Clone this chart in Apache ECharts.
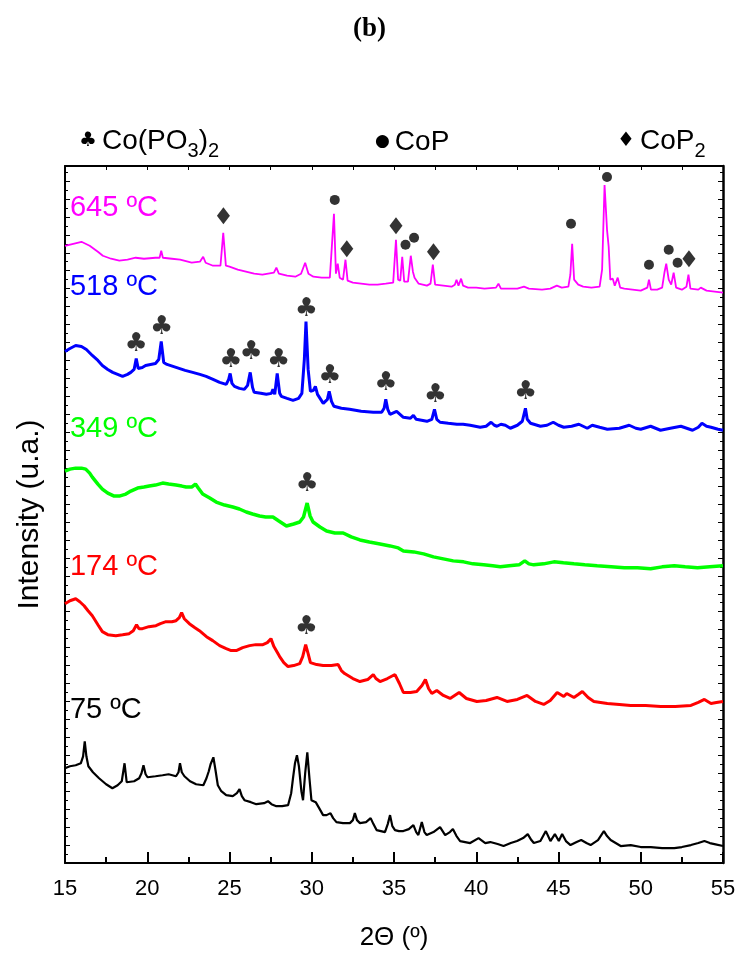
<!DOCTYPE html>
<html>
<head>
<meta charset="utf-8">
<script src="https://cdn.jsdelivr.net/npm/echarts@6/dist/echarts.min.js"></script>
<style>
  html, body { margin: 0; padding: 0; background: #fff; }
  #main { width: 739px; height: 956px; }
</style>
</head>
<body>
<div id="main"></div>
<script>
// 2Θ (º) vs intensity (arbitrary, stacked)
var xTicks = [15, 20, 25, 30, 35, 40, 45, 50, 55];

var s645 = [[15.0,604],[15.5,606],[16.0,608],[16.5,604],[17.0,598],[17.3,594],[17.8,591],[18.3,589],[18.8,590],[19.3,592],[19.8,591],[20.5,592],[20.75,592],[20.85,599],[20.95,592],[21.5,591],[22.0,590],[22.7,587],[23.2,588],[23.4,593],[23.55,587],[24.0,584],[24.45,584],[24.62,617],[24.78,584],[25.0,583],[25.5,580],[26.0,578],[26.5,576],[27.0,575],[27.7,577],[27.85,582],[28.0,576],[28.5,574],[29.0,573],[29.35,576],[29.6,587],[29.8,576],[30.1,573],[30.6,572],[31.1,572],[31.22,574],[31.35,636],[31.47,576],[31.58,586],[31.7,572],[31.9,570],[32.05,590],[32.18,569],[32.5,567],[33.0,566],[33.5,565],[34.0,565],[34.5,566],[34.95,567],[35.12,610],[35.25,570],[35.38,569],[35.5,593],[35.62,568],[35.85,568],[36.02,594],[36.15,578],[36.25,572],[36.5,566],[37.0,564],[37.22,566],[37.36,585],[37.5,565],[38.0,564],[38.5,563],[38.7,565],[38.8,570],[38.92,564],[39.08,571],[39.2,564],[39.5,562],[40.0,562],[40.5,561],[41.2,562],[41.35,566],[41.5,561],[42.0,561],[42.5,561],[42.9,563],[43.2,561],[44.0,560],[44.5,561],[44.9,564],[45.2,562],[45.6,563],[45.72,575],[45.83,606],[45.95,570],[46.2,565],[46.5,563],[47.0,562],[47.5,563],[47.65,580],[47.8,665],[47.95,620],[48.05,603],[48.15,570],[48.3,571],[48.42,564],[48.6,572],[48.75,562],[49.0,561],[49.5,560],[50.0,559],[50.4,562],[50.5,570],[50.62,560],[51.0,560],[51.3,562],[51.45,578],[51.55,586],[51.7,570],[51.85,565],[52.0,577],[52.15,562],[52.5,560],[52.78,563],[52.9,575],[53.02,561],[53.5,560],[53.65,562],[54.0,559],[54.5,558],[55.0,557]];

var s518 = [[15.0,498],[15.3,501],[15.65,504],[16.0,503],[16.3,500],[16.66,494],[17.0,489],[17.27,484],[17.6,480],[17.9,477],[18.5,473],[18.8,475],[19.0,477],[19.2,480],[19.33,491],[19.45,481],[19.7,482],[19.9,484],[20.2,485],[20.5,486],[20.7,490],[20.85,508],[21.0,487],[21.2,485],[21.75,482],[22.3,479],[22.76,477],[23.2,475],[23.58,473],[24.0,470],[24.4,467],[24.8,465],[24.95,470],[25.04,476],[25.15,466],[25.3,463],[25.6,461],[25.9,460],[26.1,464],[26.26,477],[26.4,462],[26.5,457],[26.9,456],[27.24,455],[27.55,456],[27.64,460],[27.75,455],[27.9,476],[28.05,456],[28.15,453],[28.5,451],[28.86,449],[29.2,451],[29.4,456],[29.55,490],[29.65,528],[29.78,480],[29.92,458],[30.1,459],[30.22,463],[30.35,455],[30.7,446],[30.95,450],[31.06,458],[31.2,448],[31.35,443],[31.8,441],[32.3,440],[33.0,438],[33.74,437],[34.25,437],[34.4,441],[34.5,450],[34.62,440],[34.76,435],[35.16,438],[35.57,432],[36.0,431],[36.18,434],[36.35,430],[37.0,428],[37.3,430],[37.46,440],[37.6,430],[37.8,427],[38.3,426],[38.82,425],[39.2,425],[39.63,424],[40.24,422],[40.6,423],[40.9,427],[41.1,424],[41.26,423],[41.5,425],[41.77,424],[42.07,421],[42.5,424],[42.8,428],[42.99,441],[43.1,430],[43.3,426],[43.9,423],[44.3,424],[44.68,427],[45.0,424],[45.32,422],[45.8,423],[46.24,425],[46.75,421],[47.05,424],[47.5,422],[47.97,420],[48.7,421],[49.3,424],[49.7,421],[50.0,420],[50.6,423],[51.2,419],[51.8,421],[52.44,423],[53.15,419],[53.5,422],[53.72,426],[54.0,423],[54.27,422],[54.7,420],[55.0,419]];

var s349 = [[15.0,378],[15.3,380],[15.65,381],[16.0,381],[16.26,380],[16.5,376],[16.66,372],[17.0,365],[17.27,360],[17.6,356],[17.99,353],[18.3,353],[18.7,355],[19.0,358],[19.41,361],[19.8,362],[20.12,363],[20.5,364],[20.93,366],[21.3,365],[21.75,364],[22.1,363],[22.36,362],[22.7,362],[22.93,365],[23.1,361],[23.37,355],[23.8,351],[24.19,347],[24.7,344],[25.2,342],[25.6,340],[26.02,337],[26.4,335],[26.83,333],[27.2,332],[27.64,332],[28.0,328],[28.46,323],[28.9,325],[29.27,327],[29.5,332],[29.72,346],[29.9,333],[30.08,327],[30.5,322],[30.9,318],[31.4,316],[31.91,316],[32.4,312],[32.93,309],[33.5,307],[34.15,305],[34.76,303],[35.26,301],[35.57,298],[36.2,297],[36.8,295],[37.4,292],[38.0,290],[38.6,288],[39.23,287],[39.8,285],[40.45,284],[41.0,283],[41.46,282],[42.0,283],[42.6,284],[42.95,288],[43.2,285],[43.5,284],[44.1,285],[44.72,287],[45.3,286],[45.94,285],[46.6,284],[47.35,283],[48.2,282],[49.0,281],[49.8,281],[50.6,280],[51.3,282],[52.04,283],[52.7,282],[53.45,281],[54.2,282],[55.0,283]];

var s174 = [[15.0,245],[15.3,248],[15.65,250],[15.9,247],[16.16,243],[16.4,238],[16.66,233],[17.0,224],[17.27,217],[17.6,214],[18.09,213],[18.5,214],[18.9,215],[19.15,218],[19.35,224],[19.5,220],[19.71,220],[20.1,222],[20.53,223],[20.8,225],[21.14,227],[21.5,227],[21.75,228],[21.95,231],[22.09,236],[22.25,230],[22.56,225],[22.9,221],[23.17,218],[23.6,212],[23.98,208],[24.4,203],[24.8,200],[25.1,198],[25.41,198],[25.8,201],[26.22,203],[26.6,204],[27.03,204],[27.3,206],[27.52,210],[27.7,202],[28.05,192],[28.3,186],[28.56,182],[28.9,183],[29.27,185],[29.45,192],[29.63,204],[29.78,195],[29.92,186],[30.3,184],[30.69,183],[31.2,183],[31.6,184],[31.8,178],[32.0,175],[32.5,170],[32.93,167],[33.4,169],[33.74,174],[33.9,170],[34.15,167],[34.6,170],[35.06,174],[35.12,175],[35.33,165],[35.57,156],[36.0,156],[36.38,157],[36.7,163],[36.91,169],[37.1,160],[37.3,155],[37.6,158],[38.0,153],[38.41,150],[38.96,156],[39.4,150],[40.04,147],[40.6,148],[41.26,151],[41.87,147],[42.5,149],[43.09,153],[43.6,147],[44.1,144],[44.5,148],[44.92,156],[45.32,152],[45.5,155],[45.94,151],[46.2,154],[46.45,157],[46.8,151],[47.15,147],[47.97,145],[48.7,144],[49.39,143],[50.3,143],[51.22,142],[52.1,142],[53.05,143],[53.5,146],[53.87,149],[54.27,145],[54.6,146],[55.0,147]];

var s75 = [[15.0,80],[15.3,82],[15.65,83],[15.96,85],[16.1,92],[16.2,107],[16.3,92],[16.42,82],[16.7,76],[17.07,70],[17.5,64],[17.88,60],[18.2,63],[18.45,67],[18.62,85],[18.75,66],[18.8,64],[19.2,67],[19.51,70],[19.65,75],[19.77,83],[19.9,74],[20.02,71],[20.5,72],[20.93,73],[21.3,74],[21.75,72],[21.9,76],[21.99,85],[22.1,76],[22.26,72],[22.6,67],[22.97,64],[23.41,63],[23.6,70],[23.74,77],[23.85,84],[24.02,91],[24.15,78],[24.29,63],[24.5,57],[24.8,53],[25.2,52],[25.45,55],[25.61,59],[25.75,52],[25.91,48],[26.3,46],[26.63,44],[27.1,45],[27.34,47],[27.55,44],[27.85,42],[28.2,42],[28.56,43],[28.75,55],[28.86,70],[28.98,85],[29.1,93],[29.22,82],[29.37,57],[29.47,48],[29.6,75],[29.73,96],[29.86,70],[29.98,48],[30.24,46],[30.45,40],[30.69,33],[30.9,33],[31.14,35],[31.3,30],[31.5,26],[31.9,25],[32.32,25],[32.5,28],[32.62,35],[32.75,28],[32.93,25],[33.3,26],[33.58,30],[33.75,24],[33.94,18],[34.2,17],[34.45,16],[34.62,24],[34.76,33],[34.9,22],[35.06,18],[35.3,17],[35.57,17],[35.9,19],[36.18,23],[36.35,16],[36.48,13],[36.69,26],[36.85,16],[36.99,13],[37.4,16],[37.8,21],[38.11,13],[38.4,16],[38.58,19],[38.8,12],[39.02,7],[39.63,5],[40.14,10],[40.55,5],[40.85,6],[41.3,4],[41.66,2],[42.1,5],[42.48,7],[42.85,10],[43.13,14],[43.35,8],[43.5,5],[43.9,7],[44.23,17],[44.51,7],[44.78,14],[45.02,7],[45.22,14],[45.45,7],[45.73,3],[46.1,6],[46.38,8],[46.7,5],[46.95,3],[47.4,8],[47.76,17],[47.95,12],[48.17,8],[48.78,2],[49.39,3],[50.0,1],[50.61,1],[51.3,0],[52.04,0],[52.5,1],[53.05,3],[53.5,5],[53.87,7],[54.2,5],[54.48,4],[55.0,2]];

// phase markers
var clubPts = [[19.33,505],[20.87,522],[25.08,489],[26.32,497],[27.99,489],[29.68,540],[31.1,473],[34.51,466],[37.52,454],[43.0,457],[29.72,365],[29.68,221]];
var dotPts = [[31.4,650],[35.7,605],[36.22,612],[45.76,626],[47.95,673],[50.5,585],[51.7,600],[52.24,587]];
var diamondPts = [[24.63,634],[32.13,601],[35.12,624],[37.4,598],[52.93,591]];

// temperature labels
var tempNames = ['645 ºC', '518 ºC', '349 ºC', '174 ºC', '75 ºC'];
var tempColors = ['#ff00ff', '#0000ff', '#00ff00', '#ff0000', '#000000'];
var tempPos = [[15.3,642],[15.3,563],[15.3,420],[15.3,282],[15.3,138]];

var chart = echarts.init(document.getElementById('main'));

var FONT = 'Liberation Sans, Arial, Helvetica, sans-serif';

function lineSeries(name, data, color, w) {
  return {
    name: name, type: 'line', data: data, showSymbol: false,
    lineStyle: {color: color, width: w}, itemStyle: {color: color},
    z: 2, silent: true
  };
}

// legend text; subscripts pushed down with top padding
var legendRich = {
  c: {fontFamily: 'DejaVu Sans', fontSize: 20, fontWeight: 'normal', color: '#000', lineHeight: 30},
  d: {fontFamily: 'DejaVu Sans', fontSize: 17, fontWeight: 'normal', color: '#000', lineHeight: 30},
  a: {fontFamily: FONT, fontSize: 28, fontWeight: 'normal', color: '#000', lineHeight: 30},
  s: {fontFamily: FONT, fontSize: 20, fontWeight: 'normal', color: '#000', lineHeight: 20, padding: [20, 0, 0, 0]}
};

var option = {
  animation: false,
  backgroundColor: '#fff',
  title: [
    {text: '(b)', left: 'center', top: 11,
     textStyle: {fontFamily: 'Liberation Serif, Times New Roman, serif', fontWeight: 'bold', fontSize: 27, color: '#000'}},
    {text: '{c|♣} {a|Co(PO}{s|3}{a|)}{s|2}', left: 74, top: 121, textStyle: {fontWeight: 'normal', rich: legendRich}},
    {text: '{d|●} {a|CoP}', left: 370, top: 122, textStyle: {fontWeight: 'normal', rich: legendRich}},
    {text: '{c|♦} {a|CoP}{s|2}', left: 612, top: 121, textStyle: {fontWeight: 'normal', rich: legendRich}}
  ],
  grid: {left: 65, right: 16, top: 166, bottom: 91, containLabel: false},
  xAxis: [
    {type: 'value', min: 15, max: 55, interval: 5, position: 'bottom',
     axisLine: {show: true, onZero: false, lineStyle: {color: '#000', width: 2}},
     axisTick: {show: true, inside: true, length: 11, lineStyle: {color: '#000', width: 2}},
     minorTick: {show: true, splitNumber: 2, length: 6, lineStyle: {color: '#000', width: 2}},
     splitLine: {show: false},
     axisLabel: {color: '#000', fontFamily: FONT, fontSize: 22, margin: 15,
       formatter: function (v) { return xTicks.indexOf(v) >= 0 ? String(v) : ''; }},
     name: '2Θ (º)', nameLocation: 'middle', nameGap: 62,
     nameTextStyle: {color: '#000', fontFamily: FONT, fontSize: 26}},
    {type: 'value', min: 15, max: 55, interval: 2.5, position: 'top',
     axisLine: {show: true, onZero: false, lineStyle: {color: '#000', width: 2}},
     axisTick: {show: true, inside: true, length: 4, lineStyle: {color: '#000', width: 1}},
     axisLabel: {show: false}, splitLine: {show: false}}
  ],
  yAxis: [
    {type: 'value', min: -15, max: 684, interval: 18, position: 'left',
     axisLine: {show: true, onZero: false, lineStyle: {color: '#000', width: 2}},
     axisTick: {show: true, inside: true, length: 5, lineStyle: {color: '#000', width: 1}},
     minorTick: {show: true, splitNumber: 2, length: 3, lineStyle: {color: '#000', width: 1}},
     axisLabel: {show: false}, splitLine: {show: false},
     name: 'Intensity (u.a.)', nameLocation: 'middle', nameGap: 20,
     nameTextStyle: {color: '#000', fontFamily: FONT, fontSize: 30}},
    {type: 'value', min: -15, max: 684, interval: 18, position: 'right',
     axisLine: {show: true, onZero: false, lineStyle: {color: '#000', width: 2.5}},
     axisTick: {show: true, inside: true, length: 5, lineStyle: {color: '#000', width: 1}},
     minorTick: {show: true, splitNumber: 2, length: 3, lineStyle: {color: '#000', width: 1}},
     axisLabel: {show: false}, splitLine: {show: false}}
  ],
  series: [
    lineSeries('645 ºC', s645, '#ff00ff', 1.8),
    lineSeries('518 ºC', s518, '#0000ff', 3),
    lineSeries('349 ºC', s349, '#00ff00', 3.5),
    lineSeries('174 ºC', s174, '#ff0000', 3),
    lineSeries('75 ºC', s75, '#000000', 2.2),
    {name: 'Co(PO3)2', type: 'scatter', data: clubPts, symbolSize: 0, z: 5, silent: true,
     label: {show: true, position: 'inside', formatter: '♣', color: '#000',
       fontFamily: 'DejaVu Sans', fontSize: 26}},
    {name: 'CoP', type: 'scatter', data: dotPts, symbol: 'circle', symbolSize: 10, z: 5, silent: true,
     itemStyle: {color: '#000'}},
    {name: 'CoP2', type: 'scatter', data: diamondPts, symbol: 'diamond', symbolSize: [13, 17], z: 5, silent: true,
     itemStyle: {color: '#000'}},
    {name: 'temps', type: 'scatter', symbolSize: 0, z: 6, silent: true,
     data: tempPos.map(function (p, i) {
       return {value: [p[0], p[1], tempNames[i]],
         label: {color: tempColors[i]}};
     }),
     label: {show: true, position: 'right', distance: 0, fontFamily: FONT, fontSize: 29,
       opacity: 1, textBorderWidth: 0,
       formatter: function (p) { return p.value[2]; }}}
  ]
};

chart.setOption(option);
</script>
</body>
</html>
